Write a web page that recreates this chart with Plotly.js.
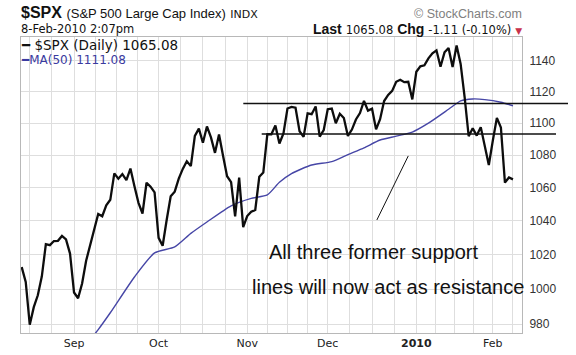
<!DOCTYPE html>
<html><head><meta charset="utf-8">
<script src="https://cdn.plot.ly/plotly-3.0.1.min.js"></script>
<style>html,body{margin:0;padding:0;background:#fff}#chart{width:576px;height:355px}</style>
</head><body><div id="chart"></div>
<script>
// Trading days, 13-Aug-2009 .. 8-Feb-2010
const dates = [
 '2009-08-13','2009-08-14','2009-08-17','2009-08-18','2009-08-19','2009-08-20','2009-08-21','2009-08-24','2009-08-25','2009-08-26','2009-08-27','2009-08-28','2009-08-31',
 '2009-09-01','2009-09-02','2009-09-03','2009-09-04','2009-09-08','2009-09-09','2009-09-10','2009-09-11','2009-09-14','2009-09-15','2009-09-16','2009-09-17','2009-09-18','2009-09-21','2009-09-22','2009-09-23','2009-09-24','2009-09-25','2009-09-28','2009-09-29','2009-09-30',
 '2009-10-01','2009-10-02','2009-10-05','2009-10-06','2009-10-07','2009-10-08','2009-10-09','2009-10-12','2009-10-13','2009-10-14','2009-10-15','2009-10-16','2009-10-19','2009-10-20','2009-10-21','2009-10-22','2009-10-23','2009-10-26','2009-10-27','2009-10-28','2009-10-29','2009-10-30',
 '2009-11-02','2009-11-03','2009-11-04','2009-11-05','2009-11-06','2009-11-09','2009-11-10','2009-11-11','2009-11-12','2009-11-13','2009-11-16','2009-11-17','2009-11-18','2009-11-19','2009-11-20','2009-11-23','2009-11-24','2009-11-25','2009-11-27','2009-11-30',
 '2009-12-01','2009-12-02','2009-12-03','2009-12-04','2009-12-07','2009-12-08','2009-12-09','2009-12-10','2009-12-11','2009-12-14','2009-12-15','2009-12-16','2009-12-17','2009-12-18','2009-12-21','2009-12-22','2009-12-23','2009-12-24','2009-12-28','2009-12-29','2009-12-30','2009-12-31',
 '2010-01-04','2010-01-05','2010-01-06','2010-01-07','2010-01-08','2010-01-11','2010-01-12','2010-01-13','2010-01-14','2010-01-15','2010-01-19','2010-01-20','2010-01-21','2010-01-22','2010-01-25','2010-01-26','2010-01-27','2010-01-28','2010-01-29',
 '2010-02-01','2010-02-02','2010-02-03','2010-02-04','2010-02-05','2010-02-08'
];
const closes = [
 1012.73,1004.09,979.73,989.67,996.46,1007.37,1026.13,1025.57,1028.00,1028.12,1030.98,1028.93,1020.62,
 998.04,994.75,1003.24,1016.40,1025.39,1033.37,1044.14,1042.73,1049.34,1052.63,1068.76,1065.49,1068.30,1064.66,1071.66,1060.87,1050.78,1044.38,1062.98,1060.61,1057.08,
 1029.85,1025.21,1040.46,1054.72,1057.58,1065.48,1071.49,1076.19,1073.19,1092.02,1096.56,1087.68,1097.91,1091.06,1081.40,1092.91,1079.60,1066.95,1063.41,1042.63,1066.11,1036.19,
 1042.88,1045.41,1046.50,1066.63,1069.30,1093.08,1093.01,1098.51,1087.24,1093.48,1109.30,1110.32,1109.80,1094.90,1091.38,1106.24,1105.65,1110.63,1091.49,1095.63,
 1108.86,1109.24,1099.92,1105.98,1103.25,1091.94,1095.95,1102.35,1106.41,1114.11,1107.93,1109.18,1096.08,1102.47,1114.05,1118.02,1120.59,1126.48,1127.78,1126.20,1126.42,1115.10,
 1132.99,1136.52,1137.14,1141.69,1144.98,1146.98,1136.22,1145.68,1148.46,1136.03,1150.23,1138.04,1116.48,1091.76,1096.78,1092.17,1097.50,1084.53,1073.87,
 1089.19,1103.32,1097.28,1063.11,1066.19,1065.08
];
// MA(50) at these trading-day positions
const maIndex  = [16, 19, 22, 28, 33, 38, 42, 46, 52, 57, 61, 64, 67, 72, 77, 81, 85, 89, 93, 97, 101, 106, 109, 112, 115, 119, 122];
const maValues = [968.5, 977, 986.5, 1007, 1021, 1024.5, 1032.5, 1039.3, 1049, 1053.5, 1055.6, 1063.3, 1068.6, 1073.9, 1076, 1080.3, 1084.5, 1089.4, 1091.8, 1094.4, 1100, 1108.8, 1114.2, 1115.4, 1115, 1113.3, 1111.08];
// axis labels
const monthTickIndex = [13, 34, 56, 76, 98, 117];
const monthTickText  = ['Sep', 'Oct', 'Nov', 'Dec', '<b>2010</b>', 'Feb'];
const weekGridIndex  = [2, 7.5, 13, 18.25, 23.5, 28.75, 34, 39.5, 45, 50.5, 56, 61, 66, 71, 76, 81.5, 87, 92.5, 98, 102.75, 107.5, 112.25, 117, 122];
const yTicks = [980, 1000, 1020, 1040, 1060, 1080, 1100, 1120, 1140];
// drawn resistance levels and the pointer line
const resistanceLevels = [1112.5, 1093.2];
const pointerLine = {i0: 88.2, v0: 1040.5, i1: 96.0, v1: 1079.5};

const idx = closes.map((_, i) => i);

// plot area in pixels
const L = 21, T = 37, W = 501, H = 296;
const X = px => (px - L) / W;
const Y = py => (T + H - py) / H;

const ARIAL = 'Liberation Sans, Arial, sans-serif';
const VERD = 'DejaVu Sans, Verdana, sans-serif';

const traces = [
  {x: maIndex, y: maValues, type: 'scatter', mode: 'lines', name: 'MA(50)',
   line: {color: '#4646a6', width: 1.4, shape: 'spline', smoothing: 0.6}, hoverinfo: 'skip'},
  {x: idx, y: closes, type: 'scatter', mode: 'lines', name: '$SPX (Daily)',
   text: dates, line: {color: '#0d0d0d', width: 2.3}, hoverinfo: 'skip'}
];

const layout = {
  width: 576, height: 355,
  margin: {l: L, r: 576 - L - W, t: T, b: 355 - T - H, pad: 0},
  paper_bgcolor: '#ffffff', plot_bgcolor: '#ffffff',
  showlegend: false,
  xaxis: {
    range: [-0.174, 124.24], tickmode: 'array', tickvals: monthTickIndex, ticktext: monthTickText,
    showgrid: true, gridcolor: '#dedede', gridwidth: 1, zeroline: false,
    showline: true, linecolor: '#b8b8b8', linewidth: 1, mirror: true, ticks: '',
    tickfont: {family: VERD, size: 11, color: '#222'},
    minor: {tickmode: 'array', tickvals: weekGridIndex, showgrid: true, gridcolor: '#dedede', gridwidth: 1, ticks: ''},
    fixedrange: true
  },
  yaxis: {
    type: 'log', range: [2.98905, 3.062885], side: 'right',
    tickmode: 'array', tickvals: yTicks, ticktext: yTicks.map(String),
    showgrid: true, gridcolor: '#dedede', gridwidth: 1, zeroline: false,
    showline: true, linecolor: '#b8b8b8', linewidth: 1, mirror: true, ticks: '',
    ticklabelstandoff: 4,
    tickfont: {family: ARIAL, size: 12, color: '#333'},
    fixedrange: true
  },
  shapes: [
    {type: 'line', xref: 'paper', yref: 'y', x0: X(243.3), x1: X(568), y0: resistanceLevels[0], y1: resistanceLevels[0],
     line: {color: '#111', width: 1.5}},
    {type: 'line', xref: 'paper', yref: 'y', x0: X(261.7), x1: X(556), y0: resistanceLevels[1], y1: resistanceLevels[1],
     line: {color: '#111', width: 1.5}},
    {type: 'line', xref: 'x', yref: 'y', x0: pointerLine.i0, y0: pointerLine.v0, x1: pointerLine.i1, y1: pointerLine.v1,
     line: {color: '#111', width: 1}}
  ],
  annotations: [
    {xref: 'paper', yref: 'paper', x: X(19.5), y: Y(13), xanchor: 'left', yanchor: 'middle', showarrow: false, borderpad: 0,
     font: {family: ARIAL, size: 16, color: '#111'},
     text: '<b>$SPX</b> <span style="font-size:13px">(S&amp;P 500 Large Cap Index)</span> <span style="font-family:DejaVu Sans;font-size:11px">INDX</span>'},
    {xref: 'paper', yref: 'paper', x: X(19.5), y: Y(29.5), xanchor: 'left', yanchor: 'middle', showarrow: false, borderpad: 0,
     font: {family: VERD, size: 11.5, color: '#111'}, text: '8-Feb-2010 2:07pm'},
    {xref: 'paper', yref: 'paper', x: X(523), y: Y(14), xanchor: 'right', yanchor: 'middle', showarrow: false, borderpad: 0,
     font: {family: ARIAL, size: 12.5, color: '#808080'}, text: '© StockCharts.com'},
    {xref: 'paper', yref: 'paper', x: X(523), y: Y(29), xanchor: 'right', yanchor: 'middle', showarrow: false, borderpad: 0,
     font: {family: ARIAL, size: 14, color: '#111'},
     text: '<b>Last</b> <span style="font-family:DejaVu Sans;font-size:11.5px">1065.08</span> <b>Chg</b> <span style="font-family:DejaVu Sans;font-size:11.5px">-1.11 (-0.10%)</span> <span style="font-family:DejaVu Sans;font-size:9px;color:#c8324b">▼</span>'},
    {xref: 'paper', yref: 'paper', x: X(20), y: Y(45.3), xanchor: 'left', yanchor: 'middle', showarrow: false, borderpad: 0,
     font: {family: VERD, size: 13.5, color: '#111'}, text: '━ $SPX (Daily) 1065.08'},
    {xref: 'paper', yref: 'paper', x: X(20), y: Y(60), xanchor: 'left', yanchor: 'middle', showarrow: false, borderpad: 0,
     font: {family: VERD, size: 12, color: '#3a3aa0'}, text: '━MA(50) 1111.08'},
    {xref: 'paper', yref: 'paper', x: X(268), y: Y(252), xanchor: 'left', yanchor: 'middle', showarrow: false, borderpad: 0,
     font: {family: ARIAL, size: 20, color: '#111'}, text: 'All three former support'},
    {xref: 'paper', yref: 'paper', x: X(250.5), y: Y(287), xanchor: 'left', yanchor: 'middle', showarrow: false, borderpad: 0,
     font: {family: ARIAL, size: 20, color: '#111'}, text: 'lines will now act as resistance'}
  ]
};

Plotly.newPlot('chart', traces, layout, {displayModeBar: false, staticPlot: true});
</script>
</body></html>
